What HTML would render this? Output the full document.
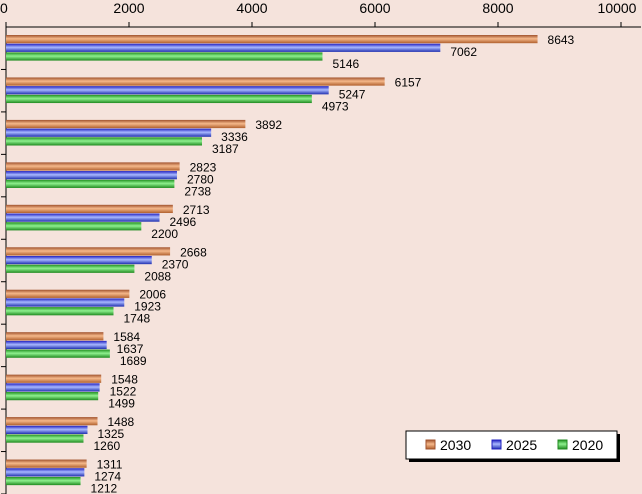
<!DOCTYPE html>
<html><head><meta charset="utf-8"><style>
body{margin:0;background:#f5e3dc;}
svg{display:block;font-family:"Liberation Sans",sans-serif;}
</style></head><body>
<svg id="c" width="642" height="494">
<defs>
<linearGradient id="gO" x1="0" y1="0" x2="0" y2="1"><stop offset="0" stop-color="#a0522d"/><stop offset="0.45" stop-color="#f5b88a"/><stop offset="1" stop-color="#b0602e"/></linearGradient>
<linearGradient id="gB" x1="0" y1="0" x2="0" y2="1"><stop offset="0" stop-color="#2020c0"/><stop offset="0.45" stop-color="#a8b8ff"/><stop offset="1" stop-color="#2030b0"/></linearGradient>
<linearGradient id="gG" x1="0" y1="0" x2="0" y2="1"><stop offset="0" stop-color="#209020"/><stop offset="0.45" stop-color="#8ef08e"/><stop offset="1" stop-color="#208a20"/></linearGradient>
</defs>
</svg>
<script>
const categories=["c1","c2","c3","c4","c5","c6","c7","c8","c9","c10","c11"];
const s2030=[8643,6157,3892,2823,2713,2668,2006,1584,1548,1488,1311];
const s2025=[7062,5247,3336,2780,2496,2370,1923,1637,1522,1325,1274];
const s2020=[5146,4973,3187,2738,2200,2088,1748,1689,1499,1260,1212];
const ticks=[0,2000,4000,6000,8000,10000];
const seriesNames=["2030","2025","2020"];
const NS="http://www.w3.org/2000/svg";
const svg=document.getElementById('c');
const x0=6,x1=621,yTop=27,yBottom=494;
const xs=v=>x0+(v/10000)*(x1-x0);
const gh=(yBottom-yTop)/categories.length;
function el(t,a,p){const e=document.createElementNS(NS,t);for(const k in a)e.setAttribute(k,a[k]);(p||svg).appendChild(e);return e;}
let ax=el('line',{x1:x0,y1:yTop,x2:641,y2:yTop,stroke:'#000'});


let ay=el('line',{x1:x0,y1:yTop,x2:x0,y2:yBottom,stroke:'#000'});


ticks.forEach(t=>{
 const x=xs(t);
 el('line',{x1:x,y1:yTop-5,x2:x,y2:yTop,stroke:'#000'});
 const tx=el('text',{x:t===10000?x-4:x,y:13,'font-size':14,'text-anchor':t===0?'start':'middle',fill:'#000'});
 if(t===0)tx.setAttribute('x',0);
 tx.textContent=t;
 
 
});
for(let i=1;i<=categories.length;i++){el('line',{x1:x0-5,y1:yTop+gh*i,x2:x0,y2:yTop+gh*i,stroke:'#000'});}
const series=[s2030,s2025,s2020],fills=['url(#gO)','url(#gB)','url(#gG)'];
const bh=8.7;
categories.forEach((c,i)=>{
 const gy=yTop+gh*i+8;
 series.forEach((s,j)=>{
  const y=gy+j*bh;
  const r=el('rect',{x:x0,y:y,width:xs(s[i])-x0,height:bh-0.5,fill:fills[j]});
  
  
  const t=el('text',{x:xs(s[i])+10,y:gy+9+j*12,'font-size':12,fill:'#000'});
  t.textContent=s[i];
  
  
 });
});
const lg=el('g',{});


el('rect',{x:409,y:434,width:211,height:28,fill:'#000'},lg);
el('rect',{x:406,y:431,width:211,height:28,fill:'#fff',stroke:'#000'},lg);
seriesNames.forEach((n,j)=>{
 const lx=426+j*66;
 const e=el('g',{},lg);
 
 
 el('rect',{x:lx,y:440,width:9,height:9,fill:fills[j],stroke:['#a0522d','#2020c0','#208a20'][j]},e);
 const t=el('text',{x:lx+14,y:450,'font-size':14,fill:'#000'},e);
 t.textContent=n;
});
</script>
</body></html>
